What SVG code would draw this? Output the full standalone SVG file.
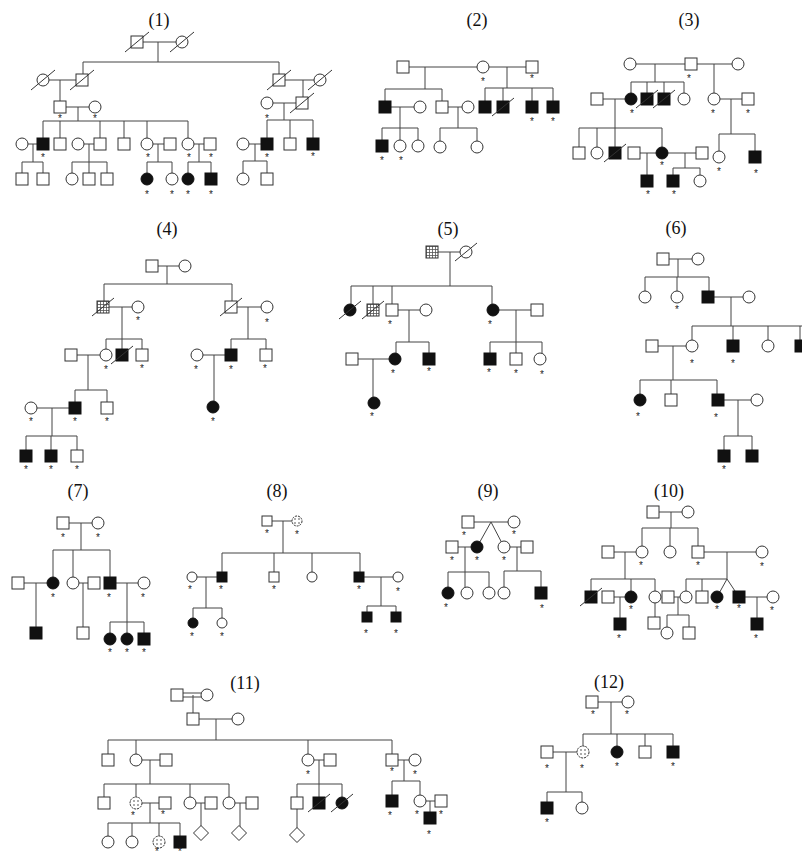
<svg xmlns="http://www.w3.org/2000/svg" width="802" height="858" viewBox="0 0 802 858">
<style>
.u{fill:#fff;stroke:#333;stroke-width:1}
.a{fill:#111;stroke:#111;stroke-width:1}
.h{fill:url(#grid);stroke:#333;stroke-width:1}
.s{fill:url(#dots);stroke:#333;stroke-width:1;stroke-dasharray:2 1}
.x{stroke:#333;stroke-width:1;fill:none}
.c path{fill:none;stroke:#444;stroke-width:1}
.k{font-family:"Liberation Sans",Arial,sans-serif;font-size:10px;text-anchor:middle;fill:#222}
.t{font-family:"Liberation Serif","Times New Roman",serif;font-size:18px;text-anchor:middle;fill:#111}
</style>
<defs>
<rect id="S" x="-6" y="-6" width="12" height="12"/>
<circle id="C" r="6"/>
<rect id="s" x="-5" y="-5" width="10" height="10"/>
<circle id="c" r="5"/>
<path id="D" d="M0 -7.5L7.5 0L0 7.5L-7.5 0Z"/>
<pattern id="grid" width="3" height="3" patternUnits="userSpaceOnUse"><rect width="3" height="3" fill="#fff"/><path d="M0 0.5H3M0.5 0V3" stroke="#555" stroke-width="0.8"/></pattern>
<pattern id="dots" width="4" height="4" patternUnits="userSpaceOnUse"><rect width="4" height="4" fill="#fff"/><circle cx="2" cy="2" r="0.8" fill="#444"/></pattern>
</defs>
<rect width="802" height="858" fill="#fff"/>
<g id="titles">
<text class="t" x="159" y="26">(1)</text>
<text class="t" x="477" y="26">(2)</text>
<text class="t" x="689" y="26">(3)</text>
<text class="t" x="167" y="235">(4)</text>
<text class="t" x="448" y="235">(5)</text>
<text class="t" x="676" y="234">(6)</text>
<text class="t" x="78" y="497">(7)</text>
<text class="t" x="277" y="497">(8)</text>
<text class="t" x="488" y="497">(9)</text>
<text class="t" x="669" y="497">(10)</text>
<text class="t" x="245" y="689">(11)</text>
<text class="t" x="609" y="688">(12)</text>
</g>
<g id="connectors" class="c">
<path id="e1" d="M137 42H182M158 42V62M83 62H279M83 62V80M279 62V80M43 80H82M60 80V107M60 107H95M78 107V121M43 121H188M43 121V144M60 121V144M100 121V144M124 121V144M147 121V144M188 121V144M22 144H43M33 144V162M22 162H43M22 162V179M43 162V179M78 144H100M89 144V162M72 162H107M72 162V179M89 162V179M107 162V179M147 144H170M158 144V162M147 162H172M147 162V179M172 162V179M188 144H210M199 144V162M188 162H211M188 162V179M211 162V179M279 80H320M303 80V103M267 103H302M284 103V120M267 120H313M267 120V144M290 120V144M313 120V144M243 144H267M255 144V161M243 161H267M243 161V179M267 161V179"/>
<path id="e2" d="M403 67H532M425 67V89M385 89H442M385 89V107M442 89V107M507 67V88M485 88H553M485 88V107M503 88V107M532 88V107M553 88V107M385 107H420M400 107V128M382 128H418M382 128V146M400 128V146M418 128V146M442 107H468M458 107V128M440 128H477M440 128V147M477 128V147"/>
<path id="e3" d="M630 64H738M655 64V82M631 82H684M631 82V99M647 82V99M664 82V99M684 82V99M714 64V99M597 99H631M615 99V128M579 128H662M579 128V153M597 128V153M615 128V153M662 128V153M634 153H702M647 153V181M685 153V168M673 168H700M673 168V181M700 168V181M714 99H748M731 99V134M719 134H755M719 134V157M755 134V157"/>
<path id="e4" d="M152 266H185M167 266V284M104 284H232M104 284V307M232 284V307M103 307H138M122 307V339M106 339H142M106 339V355M122 339V355M142 339V355M71 355H106M88 355V390M75 390H107M75 390V408M107 390V408M31 408H75M52 408V436M26 436H77M26 436V456M51 436V456M77 436V456M231 307H267M248 307V339M231 339H266M231 339V355M266 339V355M197 355H231M214 355V407"/>
<path id="e5" d="M432 252H466M450 252V286M351 286H492M351 286V310M373 286V310M392 286V310M492 286V310M392 310H426M409 310V342M396 342H429M396 342V359M429 342V359M352 359H395M373 359V403M493 310H537M516 310V342M490 342H542M490 342V359M516 342V359M542 342V359"/>
<path id="e6" d="M663 259H698M678 259V277M645 277H709M645 277V297M677 277V297M709 277V297M708 297H749M731 297V326M692 326H802M692 326V346M733 326V346M768 326V346M800 326V346M652 346H692M673 346V380M640 380H717M640 380V400M671 380V400M717 380V400M718 400H757M738 400V436M724 436H752M724 436V456M752 436V456"/>
<path id="e7" d="M63 523H98M81 523V550M53 550H110M53 550V583M73 550V583M110 550V583M18 583H53M36 583V633M73 583H94M83 583V633M110 583H144M127 583V622M110 622H144M110 622V639M127 622V639M144 622V639"/>
<path id="e8" d="M267 521H297M283 521V553M222 553H360M222 553V577M274 553V577M312 553V577M360 553V577M192 577H222M206 577V608M193 608H222M193 608V623M222 608V623M359 577H398M381 577V606M367 606H396M367 606V617M396 606V617"/>
<path id="e9" d="M468 522H514M491 522L477 547M491 522L504 547M452 547H477M465 547V572M448 572H489M448 572V593M465 572V593M489 572V593M504 547H527M517 547V571M504 571H541M504 571V593M541 571V593"/>
<path id="e10" d="M653 512H688M671 512V528M642 528H698M642 528V552M670 528V552M698 528V552M608 552H642M625 552V579M591 579H655M591 579V597M631 579V597M655 579V597M608 597H631M620 597V624M655 597V623M698 552H762M727 552V579M686 579H727M686 579V597M702 579V597M727 579L717 597M727 579L739 597M668 597H686M678 597V615M667 615H689M667 615V633M689 615V633M739 597H773M757 597V624"/>
<path id="e11" d="M177 693H207M177 697H207M193 695V719M193 719H238M216 719V740M108 740H392M108 740V760M136 740V760M308 740V760M392 740V760M136 760H166M150 760V784M104 784H229M104 784V803M136 784V803M190 784V803M229 784V803M136 803H165M150 803V823M108 823H180M108 823V842M132 823V842M159 823V842M180 823V842M190 803H211M201 803V833M229 803H252M240 803V833M308 760H330M319 760V784M297 784H342M297 784V803M319 784V803M342 784V803M297 803V835M392 760H415M404 760V781M392 781H420M392 781V801M420 781V801M420 801H441M430 801V818"/>
<path id="e12" d="M592 702H628M611 702V734M583 734H673M583 734V752M617 734V752M645 734V752M673 734V752M547 752H583M566 752V792M547 792H582M547 792V808M582 792V808"/>
</g>
<g id="ped1">
<g id="p1-1"><use href="#S" class="u" x="137" y="42"/><path class="x" d="M125 52L149 32"/></g>
<g id="p1-2"><use href="#C" class="u" x="182" y="42"/><path class="x" d="M170 52L194 32"/></g>
<g id="p1-3"><use href="#C" class="u" x="43" y="80"/><path class="x" d="M31 90L55 70"/></g>
<g id="p1-4"><use href="#S" class="u" x="82" y="80"/><path class="x" d="M70 90L94 70"/></g>
<g id="p1-5"><use href="#S" class="u" x="279" y="80"/><path class="x" d="M267 90L291 70"/></g>
<g id="p1-6"><use href="#C" class="u" x="320" y="80"/><path class="x" d="M308 90L332 70"/></g>
<g id="p1-7"><use href="#C" class="u" x="267" y="103"/><text class="k" x="267" y="122">*</text></g>
<g id="p1-8"><use href="#S" class="u" x="302" y="103"/><path class="x" d="M290 113L314 93"/></g>
<g id="p1-9"><use href="#S" class="u" x="60" y="107"/><text class="k" x="60" y="122">*</text></g>
<g id="p1-10"><use href="#C" class="u" x="95" y="107"/><text class="k" x="95" y="122">*</text></g>
<g id="p1-11"><use href="#C" class="u" x="22" y="144"/></g>
<g id="p1-12"><use href="#S" class="a" x="43" y="144"/><text class="k" x="43" y="161">*</text></g>
<g id="p1-13"><use href="#S" class="u" x="60" y="144"/></g>
<g id="p1-14"><use href="#C" class="u" x="78" y="144"/></g>
<g id="p1-15"><use href="#S" class="u" x="100" y="144"/></g>
<g id="p1-16"><use href="#S" class="u" x="124" y="144"/></g>
<g id="p1-17"><use href="#C" class="u" x="147" y="144"/><text class="k" x="148" y="161">*</text></g>
<g id="p1-18"><use href="#S" class="u" x="170" y="144"/></g>
<g id="p1-19"><use href="#C" class="u" x="188" y="144"/><text class="k" x="189" y="161">*</text></g>
<g id="p1-20"><use href="#S" class="u" x="210" y="144"/><text class="k" x="211" y="161">*</text></g>
<g id="p1-21"><use href="#C" class="u" x="243" y="144"/></g>
<g id="p1-22"><use href="#S" class="a" x="267" y="144"/><text class="k" x="267" y="161">*</text></g>
<g id="p1-23"><use href="#S" class="u" x="290" y="144"/></g>
<g id="p1-24"><use href="#S" class="a" x="313" y="144"/><text class="k" x="313" y="160">*</text></g>
<g id="p1-25"><use href="#S" class="u" x="22" y="179"/></g>
<g id="p1-26"><use href="#S" class="u" x="43" y="179"/></g>
<g id="p1-27"><use href="#C" class="u" x="72" y="179"/></g>
<g id="p1-28"><use href="#S" class="u" x="89" y="179"/></g>
<g id="p1-29"><use href="#S" class="u" x="107" y="179"/></g>
<g id="p1-30"><use href="#C" class="a" x="147" y="179"/><text class="k" x="147" y="198">*</text></g>
<g id="p1-31"><use href="#C" class="u" x="172" y="179"/><text class="k" x="172" y="198">*</text></g>
<g id="p1-32"><use href="#C" class="a" x="188" y="179"/><text class="k" x="188" y="198">*</text></g>
<g id="p1-33"><use href="#S" class="a" x="211" y="179"/><text class="k" x="211" y="198">*</text></g>
<g id="p1-34"><use href="#C" class="u" x="243" y="179"/></g>
<g id="p1-35"><use href="#S" class="u" x="267" y="179"/></g>
</g>
<g id="ped2">
<g id="p2-1"><use href="#S" class="u" x="403" y="67"/></g>
<g id="p2-2"><use href="#C" class="u" x="483" y="67"/><text class="k" x="483" y="85">*</text></g>
<g id="p2-3"><use href="#S" class="u" x="532" y="67"/><text class="k" x="532" y="82">*</text></g>
<g id="p2-4"><use href="#S" class="a" x="385" y="107"/></g>
<g id="p2-5"><use href="#C" class="u" x="420" y="107"/></g>
<g id="p2-6"><use href="#S" class="u" x="442" y="107"/></g>
<g id="p2-7"><use href="#C" class="u" x="468" y="107"/></g>
<g id="p2-8"><use href="#S" class="a" x="485" y="107"/></g>
<g id="p2-9"><use href="#S" class="a" x="503" y="107"/><path class="x" d="M492 116L514 98"/></g>
<g id="p2-10"><use href="#S" class="a" x="532" y="107"/><text class="k" x="532" y="125">*</text></g>
<g id="p2-11"><use href="#S" class="a" x="553" y="107"/><text class="k" x="553" y="125">*</text></g>
<g id="p2-12"><use href="#S" class="a" x="382" y="146"/><text class="k" x="382" y="164">*</text></g>
<g id="p2-13"><use href="#C" class="u" x="400" y="146"/><text class="k" x="401" y="164">*</text></g>
<g id="p2-14"><use href="#C" class="u" x="418" y="146"/></g>
<g id="p2-15"><use href="#C" class="u" x="440" y="147"/></g>
<g id="p2-16"><use href="#C" class="u" x="477" y="147"/></g>
</g>
<g id="ped3">
<g id="p3-1"><use href="#C" class="u" x="630" y="64"/></g>
<g id="p3-2"><use href="#S" class="u" x="691" y="64"/><text class="k" x="689" y="82">*</text></g>
<g id="p3-3"><use href="#C" class="u" x="738" y="64"/></g>
<g id="p3-4"><use href="#S" class="u" x="597" y="99"/></g>
<g id="p3-5"><use href="#C" class="a" x="631" y="99"/><text class="k" x="632" y="117">*</text></g>
<g id="p3-6"><use href="#S" class="a" x="647" y="99"/><path class="x" d="M636 108L658 90"/></g>
<g id="p3-7"><use href="#S" class="a" x="664" y="99"/><path class="x" d="M653 108L675 90"/></g>
<g id="p3-8"><use href="#C" class="u" x="684" y="99"/></g>
<g id="p3-9"><use href="#C" class="u" x="714" y="99"/><text class="k" x="713" y="117">*</text></g>
<g id="p3-10"><use href="#S" class="u" x="748" y="99"/><text class="k" x="748" y="117">*</text></g>
<g id="p3-11"><use href="#S" class="u" x="579" y="153"/></g>
<g id="p3-12"><use href="#C" class="u" x="597" y="153"/></g>
<g id="p3-13"><use href="#S" class="a" x="615" y="153"/><path class="x" d="M604 162L626 144"/></g>
<g id="p3-14"><use href="#S" class="u" x="634" y="153"/></g>
<g id="p3-15"><use href="#C" class="a" x="662" y="153"/><text class="k" x="662" y="169">*</text></g>
<g id="p3-16"><use href="#S" class="u" x="702" y="153"/></g>
<g id="p3-17"><use href="#S" class="a" x="647" y="181"/><text class="k" x="648" y="198">*</text></g>
<g id="p3-18"><use href="#S" class="a" x="673" y="181"/><text class="k" x="674" y="198">*</text></g>
<g id="p3-19"><use href="#C" class="u" x="700" y="181"/></g>
<g id="p3-20"><use href="#C" class="u" x="719" y="157"/><text class="k" x="719" y="175">*</text></g>
<g id="p3-21"><use href="#S" class="a" x="755" y="157"/><text class="k" x="756" y="177">*</text></g>
</g>
<g id="ped4">
<g id="p4-1"><use href="#S" class="u" x="152" y="266"/></g>
<g id="p4-2"><use href="#C" class="u" x="185" y="266"/></g>
<g id="p4-3"><use href="#S" class="h" x="103" y="307"/><path class="x" d="M92 316L114 298"/></g>
<g id="p4-4"><use href="#C" class="u" x="138" y="307"/><text class="k" x="138" y="324">*</text></g>
<g id="p4-5"><use href="#S" class="u" x="231" y="307"/><path class="x" d="M220 316L242 298"/></g>
<g id="p4-6"><use href="#C" class="u" x="267" y="307"/><text class="k" x="267" y="326">*</text></g>
<g id="p4-7"><use href="#S" class="u" x="71" y="355"/></g>
<g id="p4-8"><use href="#C" class="u" x="106" y="355"/><text class="k" x="106" y="373">*</text></g>
<g id="p4-9"><use href="#S" class="a" x="122" y="355"/><path class="x" d="M111 364L133 346"/></g>
<g id="p4-10"><use href="#S" class="u" x="142" y="355"/><text class="k" x="142" y="372">*</text></g>
<g id="p4-11"><use href="#C" class="u" x="197" y="355"/><text class="k" x="196" y="373">*</text></g>
<g id="p4-12"><use href="#S" class="a" x="231" y="355"/><text class="k" x="231" y="373">*</text></g>
<g id="p4-13"><use href="#S" class="u" x="266" y="355"/><text class="k" x="265" y="372">*</text></g>
<g id="p4-14"><use href="#C" class="u" x="31" y="408"/><text class="k" x="31" y="425">*</text></g>
<g id="p4-15"><use href="#S" class="a" x="75" y="408"/><text class="k" x="75" y="425">*</text></g>
<g id="p4-16"><use href="#S" class="u" x="107" y="408"/><text class="k" x="107" y="425">*</text></g>
<g id="p4-17"><use href="#C" class="a" x="213" y="407"/><text class="k" x="213" y="425">*</text></g>
<g id="p4-18"><use href="#S" class="a" x="26" y="456"/><text class="k" x="26" y="473">*</text></g>
<g id="p4-19"><use href="#S" class="a" x="51" y="456"/><text class="k" x="51" y="473">*</text></g>
<g id="p4-20"><use href="#S" class="u" x="77" y="456"/><text class="k" x="77" y="473">*</text></g>
</g>
<g id="ped5">
<g id="p5-1"><use href="#S" class="h" x="432" y="252"/></g>
<g id="p5-2"><use href="#C" class="u" x="466" y="252"/><path class="x" d="M455 261L477 243"/></g>
<g id="p5-3"><use href="#C" class="a" x="350" y="310"/><path class="x" d="M339 319L361 301"/></g>
<g id="p5-4"><use href="#S" class="h" x="373" y="310"/><path class="x" d="M362 319L384 301"/></g>
<g id="p5-5"><use href="#S" class="u" x="392" y="310"/><text class="k" x="390" y="328">*</text></g>
<g id="p5-6"><use href="#C" class="u" x="426" y="310"/></g>
<g id="p5-7"><use href="#C" class="a" x="493" y="310"/><text class="k" x="490" y="328">*</text></g>
<g id="p5-8"><use href="#S" class="u" x="537" y="310"/></g>
<g id="p5-9"><use href="#S" class="u" x="352" y="359"/></g>
<g id="p5-10"><use href="#C" class="a" x="395" y="359"/><text class="k" x="393" y="377">*</text></g>
<g id="p5-11"><use href="#S" class="a" x="429" y="359"/><text class="k" x="429" y="375">*</text></g>
<g id="p5-12"><use href="#C" class="a" x="374" y="403"/><text class="k" x="372" y="420">*</text></g>
<g id="p5-13"><use href="#S" class="a" x="490" y="359"/><text class="k" x="489" y="376">*</text></g>
<g id="p5-14"><use href="#S" class="u" x="516" y="359"/><text class="k" x="516" y="377">*</text></g>
<g id="p5-15"><use href="#C" class="u" x="540" y="359"/><text class="k" x="542" y="378">*</text></g>
</g>
<g id="ped6">
<g id="p6-1"><use href="#S" class="u" x="663" y="259"/></g>
<g id="p6-2"><use href="#C" class="u" x="698" y="259"/></g>
<g id="p6-3"><use href="#C" class="u" x="645" y="297"/></g>
<g id="p6-4"><use href="#C" class="u" x="677" y="297"/><text class="k" x="677" y="313">*</text></g>
<g id="p6-5"><use href="#S" class="a" x="708" y="297"/></g>
<g id="p6-6"><use href="#C" class="u" x="749" y="297"/></g>
<g id="p6-7"><use href="#S" class="u" x="652" y="346"/></g>
<g id="p6-8"><use href="#C" class="u" x="692" y="346"/><text class="k" x="692" y="367">*</text></g>
<g id="p6-9"><use href="#S" class="a" x="733" y="346"/><text class="k" x="733" y="367">*</text></g>
<g id="p6-10"><use href="#C" class="u" x="768" y="346"/></g>
<g id="p6-11"><use href="#S" class="a" x="801" y="346"/></g>
<g id="p6-12"><use href="#C" class="a" x="640" y="400"/><text class="k" x="638" y="420">*</text></g>
<g id="p6-13"><use href="#S" class="u" x="671" y="400"/></g>
<g id="p6-14"><use href="#S" class="a" x="718" y="400"/><text class="k" x="716" y="421">*</text></g>
<g id="p6-15"><use href="#C" class="u" x="757" y="400"/></g>
<g id="p6-16"><use href="#S" class="a" x="724" y="456"/><text class="k" x="724" y="473">*</text></g>
<g id="p6-17"><use href="#S" class="a" x="752" y="456"/></g>
</g>
<g id="ped7">
<g id="p7-1"><use href="#S" class="u" x="63" y="523"/><text class="k" x="63" y="541">*</text></g>
<g id="p7-2"><use href="#C" class="u" x="98" y="523"/><text class="k" x="98" y="541">*</text></g>
<g id="p7-3"><use href="#S" class="u" x="18" y="583"/></g>
<g id="p7-4"><use href="#C" class="a" x="53" y="583"/><text class="k" x="53" y="601">*</text></g>
<g id="p7-5"><use href="#C" class="u" x="73" y="583"/></g>
<g id="p7-6"><use href="#S" class="u" x="94" y="583"/></g>
<g id="p7-7"><use href="#S" class="a" x="110" y="583"/><text class="k" x="109" y="601">*</text></g>
<g id="p7-8"><use href="#C" class="u" x="144" y="583"/><text class="k" x="143" y="601">*</text></g>
<g id="p7-9"><use href="#S" class="a" x="36" y="633"/></g>
<g id="p7-10"><use href="#S" class="u" x="83" y="633"/></g>
<g id="p7-11"><use href="#C" class="a" x="110" y="639"/><text class="k" x="110" y="656">*</text></g>
<g id="p7-12"><use href="#C" class="a" x="127" y="639"/><text class="k" x="127" y="656">*</text></g>
<g id="p7-13"><use href="#S" class="a" x="144" y="639"/><text class="k" x="144" y="656">*</text></g>
</g>
<g id="ped8">
<g id="p8-1"><use href="#s" class="u" x="267" y="521"/><text class="k" x="267" y="537">*</text></g>
<g id="p8-2"><use href="#c" class="s" x="297" y="521"/><text class="k" x="297" y="538">*</text></g>
<g id="p8-3"><use href="#c" class="u" x="192" y="577"/><text class="k" x="190" y="593">*</text></g>
<g id="p8-4"><use href="#s" class="a" x="222" y="577"/><text class="k" x="221" y="593">*</text></g>
<g id="p8-5"><use href="#s" class="u" x="274" y="577"/><text class="k" x="274" y="593">*</text></g>
<g id="p8-6"><use href="#c" class="u" x="312" y="577"/></g>
<g id="p8-7"><use href="#s" class="a" x="359" y="577"/><text class="k" x="359" y="593">*</text></g>
<g id="p8-8"><use href="#c" class="u" x="398" y="577"/><text class="k" x="398" y="595">*</text></g>
<g id="p8-9"><use href="#c" class="a" x="193" y="623"/><text class="k" x="192" y="640">*</text></g>
<g id="p8-10"><use href="#c" class="u" x="222" y="623"/><text class="k" x="222" y="640">*</text></g>
<g id="p8-11"><use href="#s" class="a" x="367" y="617"/><text class="k" x="366" y="637">*</text></g>
<g id="p8-12"><use href="#s" class="a" x="396" y="617"/><text class="k" x="396" y="637">*</text></g>
</g>
<g id="ped9">
<g id="p9-1"><use href="#S" class="u" x="468" y="522"/><text class="k" x="464" y="539">*</text></g>
<g id="p9-2"><use href="#C" class="u" x="514" y="522"/><text class="k" x="514" y="538">*</text></g>
<g id="p9-3"><use href="#S" class="u" x="452" y="547"/><text class="k" x="452" y="564">*</text></g>
<g id="p9-4"><use href="#C" class="a" x="477" y="547"/><text class="k" x="477" y="564">*</text></g>
<g id="p9-5"><use href="#C" class="u" x="504" y="547"/><text class="k" x="504" y="564">*</text></g>
<g id="p9-6"><use href="#S" class="u" x="527" y="547"/></g>
<g id="p9-7"><use href="#C" class="a" x="448" y="593"/><text class="k" x="446" y="611">*</text></g>
<g id="p9-8"><use href="#C" class="u" x="467" y="593"/></g>
<g id="p9-9"><use href="#C" class="u" x="489" y="593"/></g>
<g id="p9-10"><use href="#C" class="u" x="504" y="593"/></g>
<g id="p9-11"><use href="#S" class="a" x="541" y="593"/><text class="k" x="542" y="612">*</text></g>
</g>
<g id="ped10">
<g id="p10-1"><use href="#S" class="u" x="653" y="512"/></g>
<g id="p10-2"><use href="#C" class="u" x="688" y="512"/></g>
<g id="p10-3"><use href="#S" class="u" x="608" y="552"/></g>
<g id="p10-4"><use href="#C" class="u" x="642" y="552"/><text class="k" x="641" y="569">*</text></g>
<g id="p10-5"><use href="#C" class="u" x="670" y="552"/></g>
<g id="p10-6"><use href="#S" class="u" x="698" y="552"/><text class="k" x="698" y="569">*</text></g>
<g id="p10-7"><use href="#C" class="u" x="762" y="552"/><text class="k" x="762" y="570">*</text></g>
<g id="p10-8"><use href="#S" class="a" x="591" y="597"/><path class="x" d="M580 606L602 588"/></g>
<g id="p10-9"><use href="#S" class="u" x="608" y="597"/></g>
<g id="p10-10"><use href="#C" class="a" x="631" y="597"/><text class="k" x="631" y="613">*</text></g>
<g id="p10-11"><use href="#C" class="u" x="655" y="597"/></g>
<g id="p10-12"><use href="#S" class="u" x="668" y="597"/></g>
<g id="p10-13"><use href="#C" class="u" x="686" y="597"/></g>
<g id="p10-14"><use href="#S" class="u" x="702" y="597"/></g>
<g id="p10-15"><use href="#C" class="a" x="717" y="597"/><text class="k" x="717" y="613">*</text></g>
<g id="p10-16"><use href="#S" class="a" x="739" y="597"/><text class="k" x="739" y="612">*</text></g>
<g id="p10-17"><use href="#C" class="u" x="773" y="597"/><text class="k" x="772" y="614">*</text></g>
<g id="p10-18"><use href="#S" class="a" x="620" y="624"/><text class="k" x="619" y="642">*</text></g>
<g id="p10-19"><use href="#S" class="u" x="654" y="623"/></g>
<g id="p10-20"><use href="#C" class="u" x="667" y="633"/></g>
<g id="p10-21"><use href="#S" class="u" x="689" y="633"/></g>
<g id="p10-22"><use href="#S" class="a" x="757" y="624"/><text class="k" x="756" y="642">*</text></g>
</g>
<g id="ped11">
<g id="p11-1"><use href="#S" class="u" x="177" y="695"/></g>
<g id="p11-2"><use href="#C" class="u" x="207" y="695"/></g>
<g id="p11-3"><use href="#S" class="u" x="193" y="719"/></g>
<g id="p11-4"><use href="#C" class="u" x="238" y="719"/></g>
<g id="p11-5"><use href="#S" class="u" x="108" y="760"/></g>
<g id="p11-6"><use href="#C" class="u" x="136" y="760"/></g>
<g id="p11-7"><use href="#S" class="u" x="166" y="760"/></g>
<g id="p11-8"><use href="#C" class="u" x="308" y="760"/><text class="k" x="308" y="778">*</text></g>
<g id="p11-9"><use href="#S" class="u" x="330" y="760"/></g>
<g id="p11-10"><use href="#S" class="u" x="392" y="760"/><text class="k" x="392" y="775">*</text></g>
<g id="p11-11"><use href="#C" class="u" x="415" y="760"/><text class="k" x="415" y="778">*</text></g>
<g id="p11-12"><use href="#S" class="u" x="104" y="803"/></g>
<g id="p11-13"><use href="#C" class="s" x="136" y="803"/><text class="k" x="133" y="819">*</text></g>
<g id="p11-14"><use href="#S" class="u" x="165" y="803"/><text class="k" x="163" y="818">*</text></g>
<g id="p11-15"><use href="#C" class="u" x="190" y="803"/></g>
<g id="p11-16"><use href="#S" class="u" x="211" y="803"/></g>
<g id="p11-17"><use href="#C" class="u" x="229" y="803"/></g>
<g id="p11-18"><use href="#S" class="u" x="252" y="803"/></g>
<g id="p11-19"><use href="#S" class="u" x="297" y="803"/></g>
<g id="p11-20"><use href="#S" class="a" x="319" y="803"/><path class="x" d="M308 812L330 794"/></g>
<g id="p11-21"><use href="#C" class="a" x="342" y="803"/><path class="x" d="M331 812L353 794"/></g>
<g id="p11-22"><use href="#S" class="a" x="392" y="801"/><text class="k" x="390" y="819">*</text></g>
<g id="p11-23"><use href="#C" class="u" x="420" y="801"/><text class="k" x="417" y="818">*</text></g>
<g id="p11-24"><use href="#S" class="u" x="441" y="801"/><text class="k" x="441" y="818">*</text></g>
<g id="p11-25"><use href="#S" class="a" x="430" y="818"/><text class="k" x="429" y="838">*</text></g>
<g id="p11-26"><use href="#C" class="u" x="108" y="842"/></g>
<g id="p11-27"><use href="#C" class="u" x="132" y="842"/></g>
<g id="p11-28"><use href="#C" class="s" x="159" y="842"/><text class="k" x="157" y="855">*</text></g>
<g id="p11-29"><use href="#S" class="a" x="180" y="842"/><text class="k" x="180" y="855">*</text></g>
<g id="p11-30"><use href="#D" class="u" x="201" y="833"/></g>
<g id="p11-31"><use href="#D" class="u" x="239" y="833"/></g>
<g id="p11-32"><use href="#D" class="u" x="297" y="835"/></g>
</g>
<g id="ped12">
<g id="p12-1"><use href="#S" class="u" x="592" y="702"/><text class="k" x="593" y="718">*</text></g>
<g id="p12-2"><use href="#C" class="u" x="628" y="702"/><text class="k" x="627" y="718">*</text></g>
<g id="p12-3"><use href="#S" class="u" x="547" y="752"/><text class="k" x="547" y="772">*</text></g>
<g id="p12-4"><use href="#C" class="s" x="583" y="752"/><text class="k" x="582" y="772">*</text></g>
<g id="p12-5"><use href="#C" class="a" x="617" y="752"/><text class="k" x="617" y="770">*</text></g>
<g id="p12-6"><use href="#S" class="u" x="645" y="752"/></g>
<g id="p12-7"><use href="#S" class="a" x="673" y="752"/><text class="k" x="673" y="770">*</text></g>
<g id="p12-8"><use href="#S" class="a" x="547" y="808"/><text class="k" x="547" y="826">*</text></g>
<g id="p12-9"><use href="#C" class="u" x="582" y="808"/></g>
</g>
</svg>
